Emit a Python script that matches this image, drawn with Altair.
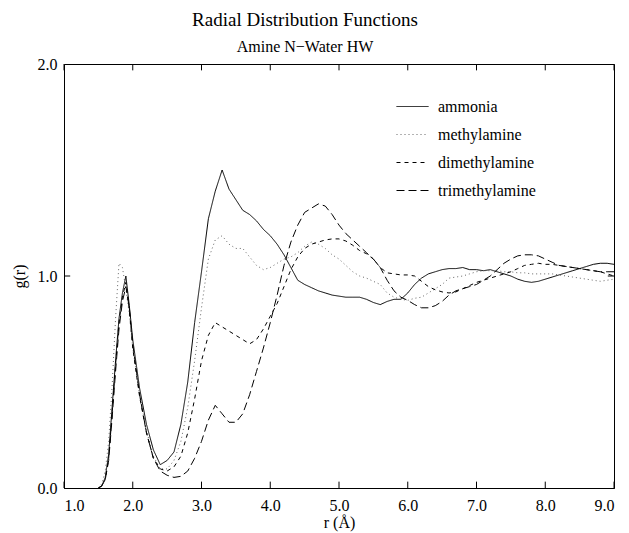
import altair as alt
import pandas as pd

r = [1.5, 1.55, 1.6, 1.65, 1.7, 1.75, 1.8, 1.85, 1.9, 1.95, 2.0,
     2.1, 2.2, 2.3, 2.4, 2.5, 2.6, 2.7, 2.8, 2.9, 3.0,
     3.1, 3.2, 3.3, 3.4, 3.5, 3.6, 3.7, 3.8, 3.9, 4.0,
     4.1, 4.2, 4.3, 4.4, 4.5, 4.6, 4.7, 4.8, 4.9, 5.0,
     5.1, 5.2, 5.3, 5.4, 5.5, 5.6, 5.7, 5.8, 5.9, 6.0,
     6.1, 6.2, 6.3, 6.4, 6.5, 6.6, 6.7, 6.8, 6.9, 7.0,
     7.1, 7.2, 7.3, 7.4, 7.5, 7.6, 7.7, 7.8, 7.9, 8.0,
     8.1, 8.2, 8.3, 8.4, 8.5, 8.6, 8.7, 8.8, 8.9, 9.0]

ammonia = [0.0, 0.01, 0.05, 0.16, 0.38, 0.6, 0.8, 0.92, 1.0, 0.86, 0.7,
           0.47, 0.3, 0.18, 0.11, 0.13, 0.17, 0.3, 0.5, 0.78, 1.02,
           1.27, 1.4, 1.5, 1.41, 1.36, 1.31, 1.29, 1.26, 1.22, 1.19,
           1.15, 1.1, 1.04, 0.98, 0.96, 0.945, 0.93, 0.92, 0.91, 0.905,
           0.9, 0.9, 0.9, 0.89, 0.875, 0.865, 0.88, 0.89, 0.89, 0.92,
           0.96, 0.99, 1.01, 1.02, 1.03, 1.035, 1.035, 1.04, 1.03, 1.03,
           1.025, 1.03, 1.02, 1.01, 1.0, 0.985, 0.975, 0.97, 0.975, 0.985,
           0.995, 1.005, 1.015, 1.025, 1.035, 1.045, 1.055, 1.06, 1.06, 1.055]

methylamine = [0.0, 0.02, 0.08, 0.22, 0.48, 0.8, 1.06, 1.04, 0.94, 0.82, 0.66,
               0.44, 0.27, 0.15, 0.09, 0.09, 0.13, 0.22, 0.38, 0.6, 0.85,
               1.08, 1.17, 1.19, 1.15, 1.13, 1.13, 1.09, 1.05, 1.03, 1.04,
               1.06, 1.08, 1.09, 1.11, 1.14, 1.16, 1.15, 1.13, 1.1, 1.08,
               1.05, 1.02, 1.0, 0.99, 0.975, 0.96, 0.92, 0.9, 0.89, 0.885,
               0.895, 0.9, 0.92, 0.94, 0.96, 0.99, 0.995, 1.0, 1.01, 1.02,
               1.025, 1.025, 1.025, 1.02, 1.02, 1.015, 1.015, 1.01, 1.01, 1.01,
               1.01, 1.005, 1.0, 0.995, 0.99, 0.985, 0.98, 0.975, 0.98, 0.985]

dimethylamine = [0.0, 0.01, 0.04, 0.14, 0.35, 0.58, 0.78, 0.9, 0.97, 0.84, 0.66,
                 0.43, 0.26, 0.14, 0.09, 0.08, 0.1, 0.15, 0.26, 0.42, 0.6,
                 0.72, 0.78, 0.76, 0.74, 0.72, 0.7, 0.68, 0.7, 0.75, 0.81,
                 0.87, 0.95, 1.03, 1.09, 1.13, 1.15, 1.16, 1.17, 1.175, 1.175,
                 1.165, 1.145, 1.12, 1.105, 1.08, 1.04, 1.015, 1.01, 1.005, 1.005,
                 1.0, 0.975, 0.95, 0.935, 0.925, 0.92, 0.925, 0.94, 0.955, 0.97,
                 0.98, 0.99, 1.0, 1.01, 1.02, 1.035, 1.05, 1.055, 1.06, 1.055,
                 1.055, 1.05, 1.045, 1.04, 1.035, 1.03, 1.025, 1.02, 1.01, 1.0]

trimethylamine = [0.0, 0.01, 0.04, 0.13, 0.33, 0.55, 0.75, 0.88, 0.95, 0.85, 0.68,
                  0.44, 0.26, 0.14, 0.08, 0.06, 0.05, 0.055, 0.08, 0.14, 0.22,
                  0.32, 0.39, 0.35, 0.31, 0.31, 0.35, 0.44, 0.55, 0.66, 0.78,
                  0.91, 1.05, 1.16, 1.24, 1.3, 1.32, 1.34, 1.33, 1.29, 1.24,
                  1.2, 1.17, 1.14, 1.11, 1.08, 1.04, 0.98, 0.93, 0.9, 0.885,
                  0.865, 0.85, 0.85, 0.86, 0.88, 0.91, 0.93, 0.94, 0.95, 0.96,
                  0.98, 1.0, 1.03, 1.06, 1.08, 1.095, 1.1, 1.1, 1.095, 1.08,
                  1.065, 1.05, 1.045, 1.04, 1.035, 1.03, 1.025, 1.02, 1.02, 1.02]

series_names = ["ammonia", "methylamine", "dimethylamine", "trimethylamine"]
series_values = [ammonia, methylamine, dimethylamine, trimethylamine]
series_dash = [[1, 0], [1, 3], [4, 4], [8, 4]]
series_color = ["black", "#666666", "black", "black"]

x_ticks = [1, 2, 3, 4, 5, 6, 7, 8, 9]
y_ticks = [0, 1, 2]
x_title = "r (Å)"
y_title = "g(r)"

rows = []
for name, vals in zip(series_names, series_values):
    for rv, gv in zip(r, vals):
        rows.append({"r": rv, "g": gv, "series": name})
df = pd.DataFrame(rows)

SERIF = "Liberation Serif"
xs = alt.Scale(domain=[1, 9], nice=False, zero=False)
ys = alt.Scale(domain=[0, 2], nice=False)

lines = alt.Chart(df).mark_line(strokeWidth=1).encode(
    x=alt.X("r:Q", scale=xs,
            axis=alt.Axis(values=x_ticks, format=".1f", title=x_title, ticks=False,
                          grid=False, domainColor="black", labelFont=SERIF,
                          labelFontSize=16, labelColor="black", labelPadding=9,
                          titleFont=SERIF, titleFontSize=16, titleFontWeight="normal",
                          titleColor="black", titlePadding=1)),
    y=alt.Y("g:Q", scale=ys,
            axis=alt.Axis(values=y_ticks, format=".1f", title=y_title, ticks=False,
                          grid=False, domainColor="black", labelFont=SERIF,
                          labelFontSize=16, labelColor="black", labelPadding=7,
                          titleFont=SERIF, titleFontSize=16, titleFontWeight="normal",
                          titleColor="black", titlePadding=10)),
    strokeDash=alt.StrokeDash("series:N", title=None, sort=series_names,
                              scale=alt.Scale(domain=series_names, range=series_dash)),
    color=alt.Color("series:N", title=None, sort=series_names,
                    scale=alt.Scale(domain=series_names, range=series_color)),
    detail="series:N",
)

TICK_X = 0.09
TICK_Y = 0.03
bt = pd.DataFrame({"x": x_ticks, "y": [0] * len(x_ticks), "y2": [TICK_Y] * len(x_ticks)})
tt = pd.DataFrame({"x": x_ticks, "y": [2] * len(x_ticks), "y2": [2 - TICK_Y] * len(x_ticks)})
lt = pd.DataFrame({"y": [1], "x": [1], "x2": [1 + TICK_X]})
rt = pd.DataFrame({"y": [1], "x": [9], "x2": [9 - TICK_X]})

def vtick(d):
    return alt.Chart(d).mark_rule(color="black", strokeWidth=1).encode(
        x=alt.X("x:Q", scale=xs), y=alt.Y("y:Q", scale=ys), y2="y2:Q")

def htick(d):
    return alt.Chart(d).mark_rule(color="black", strokeWidth=1).encode(
        y=alt.Y("y:Q", scale=ys), x=alt.X("x:Q", scale=xs), x2="x2:Q")

chart = alt.layer(lines, vtick(bt), vtick(tt), htick(lt), htick(rt)).properties(
    width=550, height=424,
    autosize=alt.AutoSizeParams(type="none"),
    padding={"left": 56, "top": 56, "right": 7, "bottom": 48},
    title=alt.TitleParams(text="Radial Distribution Functions",
                          subtitle="Amine N\u2212Water HW",
                          font=SERIF, fontSize=19, fontWeight="normal", color="black",
                          subtitleFont=SERIF, subtitleFontSize=16, subtitleColor="black",
                          anchor="middle", dx=-34, offset=1, subtitlePadding=9),
).configure_view(stroke="black", strokeWidth=1).configure_legend(
    orient="none", legendX=332, legendY=26, symbolType="stroke", symbolSize=1024,
    symbolStrokeWidth=1, labelFont=SERIF, labelFontSize=16, labelColor="black",
    labelOffset=9, rowPadding=3, padding=0,
)

chart.save("out.html", embed_options={"renderer": "svg", "actions": False})
